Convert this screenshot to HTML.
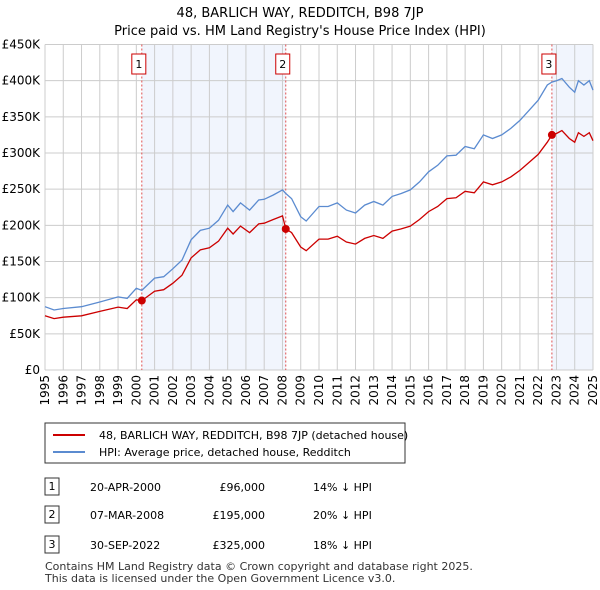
<!DOCTYPE html>
<html><head><meta charset="utf-8"><style>
body{margin:0;background:#fff;font-family:"Liberation Sans","DejaVu Sans",sans-serif;}
svg{display:block}
</style></head><body>
<svg id="c" width="600" height="590" xmlns="http://www.w3.org/2000/svg" font-family="DejaVu Sans, Liberation Sans, sans-serif">
<text x="300" y="17" text-anchor="middle" font-size="13">48, BARLICH WAY, REDDITCH, B98 7JP</text>
<text x="300" y="35" text-anchor="middle" font-size="13">Price paid vs. HM Land Registry's House Price Index (HPI)</text>
<g id="plot"></g>
<g>
<rect x="45" y="423" width="360" height="40" fill="#fff" stroke="#333" stroke-width="1"/>
<line x1="53" y1="435" x2="85" y2="435" stroke="#cc0000" stroke-width="2"/>
<text x="99" y="439" font-size="11">48, BARLICH WAY, REDDITCH, B98 7JP (detached house)</text>
<line x1="53" y1="452" x2="85" y2="452" stroke="#5b8bd0" stroke-width="2"/>
<text x="99" y="456" font-size="11">HPI: Average price, detached house, Redditch</text>
</g>
<g font-size="11">
<rect x="45" y="478" width="14" height="17" fill="#fff" stroke="#333"/><text x="52" y="490" text-anchor="middle">1</text>
<text x="90" y="491">20-APR-2000</text><text x="265" y="491" text-anchor="end">£96,000</text><text x="313" y="491">14% ↓ HPI</text>
<rect x="45" y="506" width="14" height="17" fill="#fff" stroke="#333"/><text x="52" y="518" text-anchor="middle">2</text>
<text x="90" y="519">07-MAR-2008</text><text x="265" y="519" text-anchor="end">£195,000</text><text x="313" y="519">20% ↓ HPI</text>
<rect x="45" y="536" width="14" height="17" fill="#fff" stroke="#333"/><text x="52" y="548" text-anchor="middle">3</text>
<text x="90" y="549">30-SEP-2022</text><text x="265" y="549" text-anchor="end">£325,000</text><text x="313" y="549">18% ↓ HPI</text>
</g>
<text x="45" y="570" font-size="11" fill="#333">Contains HM Land Registry data © Crown copyright and database right 2025.</text>
<text x="45" y="582" font-size="11" fill="#333">This data is licensed under the Open Government Licence v3.0.</text>
</svg>
<script>
const yTicks=[0,50,100,150,200,250,300,350,400,450];
const yTickLabels=["£0","£50K","£100K","£150K","£200K","£250K","£300K","£350K","£400K","£450K"];
const years=[1995,1996,1997,1998,1999,2000,2001,2002,2003,2004,2005,2006,2007,2008,2009,2010,2011,2012,2013,2014,2015,2016,2017,2018,2019,2020,2021,2022,2023,2024,2025];
const saleDates=[2000.3,2008.18,2022.75];
const salePrices=[96,195,325];
const saleLabels=["1","2","3"];
const hpiT=[1995,1995.5,1996,1997,1998,1999,1999.5,2000,2000.3,2001,2001.5,2002,2002.5,2003,2003.5,2004,2004.5,2005,2005.3,2005.7,2006.2,2006.7,2007,2007.5,2008,2008.18,2008.5,2009,2009.3,2010,2010.5,2011,2011.5,2012,2012.5,2013,2013.5,2014,2014.5,2015,2015.5,2016,2016.5,2017,2017.5,2018,2018.5,2019,2019.5,2020,2020.5,2021,2021.5,2022,2022.5,2022.75,2023,2023.3,2023.7,2024,2024.2,2024.5,2024.8,2025];
const hpiV=[87.5,83,85,87.5,94,101,99,113,110,127,129,140,152,180,193,196,207,228,219,231,221,235,236,242,249,244,237,212,206,226,226,231,221,217,228,233,228,240,244,249,260,274,283,296,297,309,306,325,320,325,334,345,359,373,394,398,400,403,391,384,400,394,400,387];
const priceV=[75,71,73,75,81,87,85,97,96,109,111,120,131,155,166,169,178,196,188,199,190,202,203,208,213,195,190,170,165,181,181,185,177,174,182,186,182,192,195,199,208,219,226,237,238,247,245,260,256,260,267,276,287,298,315,325,327,331,320,315,328,323,328,317];

const L=45,R=593,T=44.5,B=370;
const xs=t=>L+(t-1995)/30*(R-L);
const ys=v=>B-v/450*(B-T);
const NS="http://www.w3.org/2000/svg";
const g=document.getElementById('plot');
function mk(tag,a,p){const e=document.createElementNS(NS,tag);for(const k in a)e.setAttribute(k,a[k]);(p||g).appendChild(e);return e;}
let s1=mk('rect',{x:xs(saleDates[0]),y:T,width:xs(saleDates[1])-xs(saleDates[0]),height:B-T,fill:'#eef3fc',opacity:0.8});


let s2=mk('rect',{x:xs(saleDates[2]),y:T,width:R-xs(saleDates[2]),height:B-T,fill:'#eef3fc',opacity:0.8});


yTicks.forEach((v,i)=>{
 let l=mk('line',{x1:L,x2:R,y1:ys(v),y2:ys(v),stroke:'#ccc','stroke-width':1});
 
 
 let t=mk('text',{x:L-5,y:ys(v)+4,'text-anchor':'end','font-size':12});
 t.textContent=yTickLabels[i];
 
 
});
years.forEach(y=>{
 let l=mk('line',{x1:xs(y),x2:xs(y),y1:T,y2:B,stroke:'#ccc','stroke-width':1});
 
 
 let t=mk('text',{x:0,y:0,'font-size':12,'text-anchor':'end',transform:`translate(${xs(y)+4},${B+5}) rotate(-90)`});
 t.textContent=y;
 
 
});
saleDates.forEach((d,i)=>{
 let l=mk('line',{x1:xs(d),x2:xs(d),y1:T,y2:B,stroke:'#e05050','stroke-width':1,'stroke-dasharray':'2,2'});
 
 
 let r=mk('rect',{x:xs(d)-10,y:54,width:14,height:20,fill:'#fff',stroke:'#cc0000'});
 
 
 let t=mk('text',{x:xs(d)-3,y:68,'text-anchor':'middle','font-size':11});
 t.textContent=saleLabels[i];
 
 
});
function path(T2,V,col,name){
 let d=T2.map((t,i)=>(i?'L':'M')+xs(t).toFixed(1)+','+ys(V[i]).toFixed(1)).join('');
 let p=mk('path',{d:d,fill:'none',stroke:col,'stroke-width':1.3});
 
 
}
path(hpiT,hpiV,'#5b8bd0','hpi-line');
path(hpiT,priceV,'#cc0000','price-paid-line');
saleDates.forEach((d,i)=>{
 let c=mk('circle',{cx:xs(d),cy:ys(salePrices[i]),r:4,fill:'#cc0000'});
 
 
});
</script>
</body></html>
